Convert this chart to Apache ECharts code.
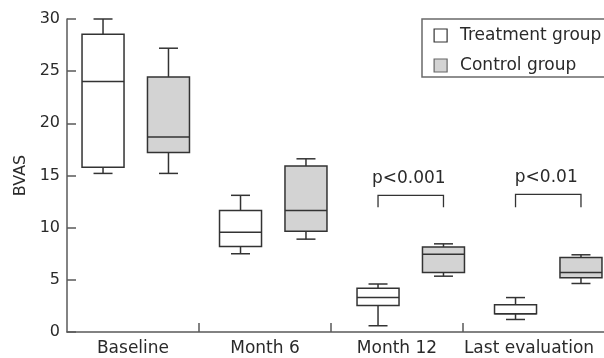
<!DOCTYPE html>
<html>
<head>
<meta charset="utf-8">
<script src="https://cdn.jsdelivr.net/npm/echarts@6/dist/echarts.min.js"></script>
<style>html,body{margin:0;padding:0;background:#fff}#c{width:604px;height:358px}</style>
</head>
<body>
<div id="c"></div>
<script>
// ---- data ----
var categories = ['Baseline', 'Month 6', 'Month 12', 'Last evaluation'];
var yTicks = [0, 5, 10, 15, 20, 25, 30];
// [min, Q1, median, Q3, max]
var treatmentStats = [
  [15.2, 15.8, 24.0, 28.55, 30.0],
  [7.5, 8.2, 9.55, 11.65, 13.1],
  [0.6, 2.55, 3.3, 4.2, 4.6],
  [1.2, 1.75, 1.75, 2.6, 3.3]
];
var controlStats = [
  [15.2, 17.2, 18.7, 24.45, 27.2],
  [8.9, 9.65, 11.65, 15.9, 16.6],
  [5.35, 5.7, 7.45, 8.15, 8.45],
  [4.65, 5.2, 5.7, 7.15, 7.4]
];
var sigCategory = [2, 3];
var sigLabels = ['p<0.001', 'p<0.01'];
var sigLevel = [13.1, 13.2];
var sigLegEnd = [11.95, 11.95];

// ---- style constants ----
var FONT = 'DejaVu Sans';
var TEXT = '#2a2a2a';
var AXIS = '#5a5a5a';
var STROKE = '#333333';
var CONTROL_FILL = '#d3d3d3';
var BOX_OFF = 0.238;   // fraction of band from category centre
var BOX_HALF = 21;
var CAP_HALF = 9.5;

function boxData(stats) {
  return stats.map(function (s, i) { return [i].concat(s); });
}

function makeBoxRender(side, fill) {
  return function (params, api) {
    var i = api.value(0);
    var band = api.size([1, 0])[0];
    var cx = api.coord([i, 0])[0] + side * band * BOX_OFF;
    var y = function (k) { return api.coord([i, api.value(k)])[1]; };
    var yMin = y(1), yQ1 = y(2), yMed = y(3), yQ3 = y(4), yMax = y(5);
    var ls = { stroke: STROKE, lineWidth: 1.5, fill: null };
    return {
      type: 'group',
      children: [
        { type: 'line', shape: { x1: cx, y1: yMax, x2: cx, y2: yQ3 }, style: ls },
        { type: 'line', shape: { x1: cx, y1: yQ1, x2: cx, y2: yMin }, style: ls },
        { type: 'line', shape: { x1: cx - CAP_HALF, y1: yMax, x2: cx + CAP_HALF, y2: yMax }, style: ls },
        { type: 'line', shape: { x1: cx - CAP_HALF, y1: yMin, x2: cx + CAP_HALF, y2: yMin }, style: ls },
        { type: 'rect', shape: { x: cx - BOX_HALF, y: yQ3, width: BOX_HALF * 2, height: yQ1 - yQ3 },
          style: { fill: fill, stroke: STROKE, lineWidth: 1.5 } },
        { type: 'line', shape: { x1: cx - BOX_HALF, y1: yMed, x2: cx + BOX_HALF, y2: yMed }, style: ls }
      ]
    };
  };
}

function sigRender(params, api) {
  var i = api.value(0);
  var band = api.size([1, 0])[0];
  var c = api.coord([i, api.value(1)]);
  var yLeg = api.coord([i, api.value(2)])[1];
  var x1 = c[0] - band * BOX_OFF, x2 = c[0] + band * BOX_OFF;
  var ls = { stroke: STROKE, lineWidth: 1.3, fill: null };
  return {
    type: 'group',
    children: [
      { type: 'polyline', shape: { points: [[x1, yLeg], [x1, c[1]], [x2, c[1]], [x2, yLeg]] }, style: ls },
      { type: 'text', style: { text: sigLabels[params.dataIndex], x: c[0] - 2, y: c[1] - 8,
        align: 'center', verticalAlign: 'bottom', fill: TEXT, font: '17px "' + FONT + '"' } }
    ]
  };
}

var chart = echarts.init(document.getElementById('c'), null, { renderer: 'canvas' });
chart.setOption({
  animation: false,
  backgroundColor: '#fff',
  textStyle: { fontFamily: FONT },
  grid: [
    { left: 67, top: 19, width: 660, height: 313, outerBoundsMode: 'none', containLabel: false },
    { left: 67, top: 19, width: 550, height: 313, outerBoundsMode: 'none', containLabel: false }
  ],
  legend: {
    orient: 'vertical',
    left: 422, top: 19,
    padding: [8, 8, 3, 11.5],
    itemGap: 13,
    itemWidth: 13, itemHeight: 13,
    borderColor: '#6a6a6a', borderWidth: 1.5,
    textStyle: { fontFamily: FONT, fontSize: 17, color: TEXT, padding: [0, 0, 0, 8] },
    data: [
      { name: 'Treatment group', icon: 'rect', itemStyle: { color: '#fff', borderColor: STROKE, borderWidth: 1.2 } },
      { name: 'Control group', icon: 'rect', itemStyle: { color: CONTROL_FILL, borderColor: '#666', borderWidth: 1.2 } }
    ]
  },
  xAxis: [
    {
      type: 'category', gridIndex: 0,
      data: categories.concat(['']),
      boundaryGap: true,
      axisLine: { show: true, lineStyle: { color: AXIS, width: 1.5 } },
      axisTick: { show: true, inside: true, length: 9, lineStyle: { color: AXIS, width: 1.5 },
        interval: function (index) { return index >= 1 && index <= 3; } },
      axisLabel: { interval: 0, margin: 8, fontSize: 17, color: TEXT, fontFamily: FONT },
      splitLine: { show: false }
    },
    { type: 'category', gridIndex: 1, data: categories, show: false, boundaryGap: true }
  ],
  yAxis: [
    {
      type: 'value', gridIndex: 0, min: yTicks[0], max: yTicks[yTicks.length - 1], interval: 5,
      name: 'BVAS', nameLocation: 'middle', nameRotate: 90, nameGap: 37,
      nameTextStyle: { fontSize: 16, color: TEXT, fontFamily: FONT },
      axisLine: { show: true, lineStyle: { color: AXIS, width: 1.5 } },
      axisTick: { show: true, inside: true, length: 9, lineStyle: { color: AXIS, width: 1.5 } },
      axisLabel: { margin: 7, fontSize: 16, color: TEXT, fontFamily: FONT },
      splitLine: { show: false }
    },
    { type: 'value', gridIndex: 1, min: 0, max: 30, show: false }
  ],
  series: [
    {
      name: 'Treatment group', type: 'custom', xAxisIndex: 1, yAxisIndex: 1,
      itemStyle: { color: '#fff', borderColor: STROKE },
      renderItem: makeBoxRender(-1, '#ffffff'),
      encode: { x: 0, y: [1, 2, 3, 4, 5] },
      data: boxData(treatmentStats)
    },
    {
      name: 'Control group', type: 'custom', xAxisIndex: 1, yAxisIndex: 1,
      itemStyle: { color: CONTROL_FILL, borderColor: STROKE },
      renderItem: makeBoxRender(1, CONTROL_FILL),
      encode: { x: 0, y: [1, 2, 3, 4, 5] },
      data: boxData(controlStats)
    },
    {
      name: 'sig', type: 'custom', xAxisIndex: 1, yAxisIndex: 1,
      renderItem: sigRender,
      encode: { x: 0, y: [1, 2] },
      data: sigCategory.map(function (c, k) { return [c, sigLevel[k], sigLegEnd[k]]; })
    }
  ]
});
</script>
</body>
</html>
